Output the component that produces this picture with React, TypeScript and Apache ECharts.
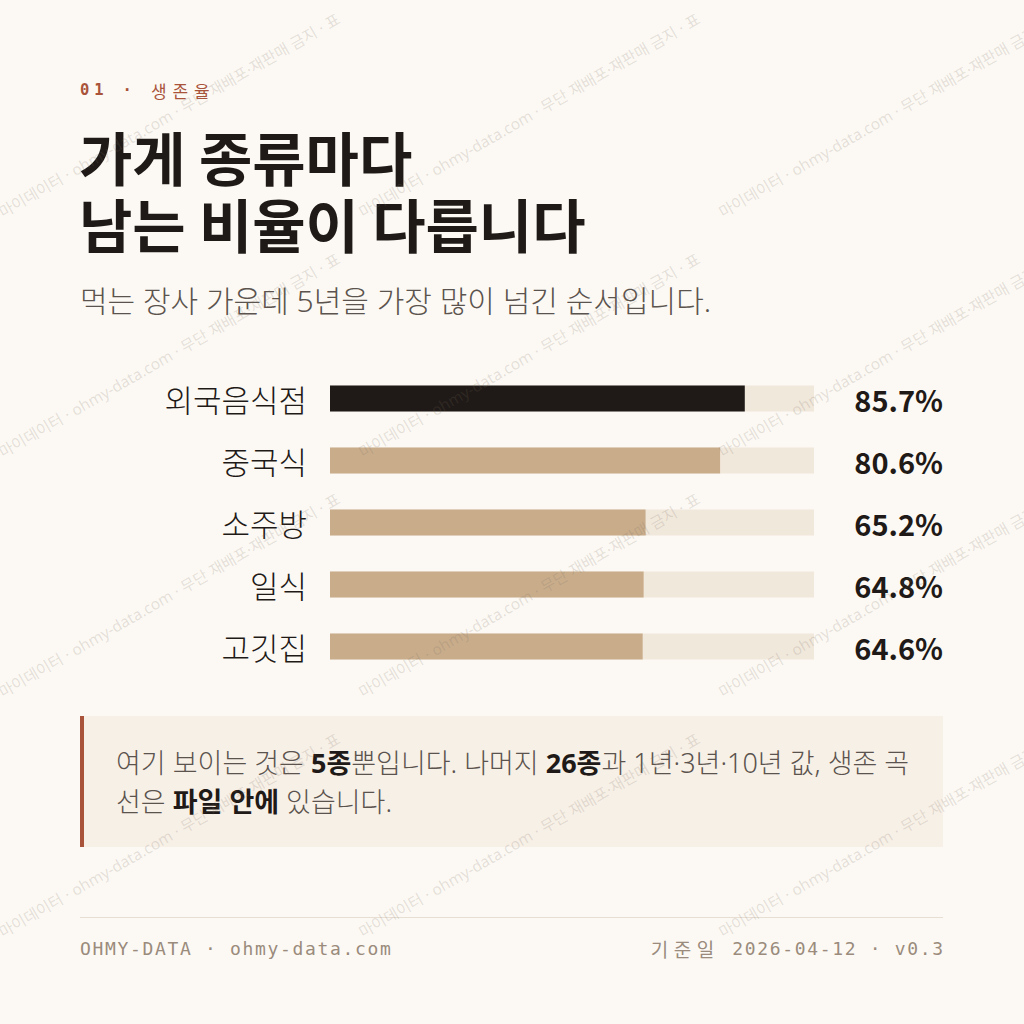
import React, { useEffect, useRef } from "react";
import * as echarts from "echarts";

// ---------- data ----------
const categories = ["외국음식점", "중국식", "소주방", "일식", "고깃집"];
const survival5y = [85.7, 80.6, 65.2, 64.8, 64.6];
const valueLabels = survival5y.map((v) => v.toFixed(1) + "%");
const axisMin = 0;
const axisMax = 100;

const eyebrow = "01 · 생존율";
const titleLines = ["가게 종류마다", "남는 비율이 다릅니다"];
const subtitle = "먹는 장사 가운데 5년을 가장 많이 넘긴 순서입니다.";
const noteLines: [string, string][][] = [
  [
    ["r", "여기 보이는 것은 "],
    ["b", "5종"],
    ["r", "뿐입니다. 나머지 "],
    ["b", "26종"],
    ["r", "과 1년·3년·10년 값, 생존 곡"],
  ],
  [
    ["r", "선은 "],
    ["b", "파일 안에"],
    ["r", " 있습니다."],
  ],
];
const footerLeft = "OHMY-DATA · ohmy-data.com";
const footerRight = "기준일 2026-04-12 · v0.3";
const watermark = "마이데이터 · ohmy-data.com · 무단 재배포·재판매 금지 · 표";

// ---------- style ----------
const BG = "#fcf9f4";
const INK = "#1f1a17";
const SUB = "#5b534d";
const RUST = "#a9533a";
const TAN = "#c9ad8b";
const TRACK = "#f1e8dc";
const MUTED = "#9a8b7c";
const KR = '"Noto Sans CJK KR", "Noto Sans", sans-serif';
const LATKR = '"Noto Sans", "Noto Sans CJK KR", sans-serif';
const MONO = '"DejaVu Sans Mono", "Liberation Mono", monospace';

const isCjk = (ch: string) => /[\u1100-\u11ff\u3130-\u318f\uac00-\ud7a3]/.test(ch);

function spacedText(
  str: string,
  x: number,
  y: number,
  size: number,
  cjkSize: number,
  pitchAscii: number,
  pitchCjk: number,
  color: string,
  weightAscii: string,
  weightCjk: string,
  alignRight = false
) {
  const chars = Array.from(str);
  let total = 0;
  chars.forEach((c, i) => {
    if (i < chars.length - 1) total += isCjk(c) ? pitchCjk : pitchAscii;
    else total += isCjk(c) ? cjkSize : size * 0.6;
  });
  let cx = alignRight ? x - total : x;
  const els: any[] = [];
  chars.forEach((c) => {
    const cjk = isCjk(c);
    if (c !== " ") {
      els.push({
        type: "text",
        x: cx,
        y,
        silent: true,
        z: 5,
        style: {
          text: c,
          fill: color,
          fontSize: cjk ? cjkSize : size,
          fontFamily: cjk ? KR : MONO,
          fontWeight: cjk ? weightCjk : weightAscii,
          align: "left",
          verticalAlign: "middle",
          textAlign: "left",
          textVerticalAlign: "middle",
        },
      });
    }
    cx += cjk ? pitchCjk : pitchAscii;
  });
  return els;
}

function buildWatermarks() {
  const els: any[] = [];
  const cols = [0, 360, 720];
  const rows = [213, 453, 693, 933];
  rows.forEach((ry) =>
    cols.forEach((cx) => {
      els.push({
        type: "text",
        x: cx,
        y: ry,
        rotation: Math.PI / 6,
        silent: true,
        z: 50,
        style: {
          text: watermark,
          fill: "rgba(120,105,92,0.19)",
          fontSize: 15.5,
          fontFamily: LATKR,
          align: "left",
          verticalAlign: "middle",
          textAlign: "left",
          textVerticalAlign: "middle",
        },
      });
    })
  );
  return els;
}

function noteText() {
  return noteLines
    .map((line) => line.map(([k, t]) => `{${k}|${t}}`).join(""))
    .join("\n");
}

export default function App() {
  const ref = useRef<HTMLDivElement>(null);
  useEffect(() => {
    document.body.style.margin = "0";
    if (!ref.current) return;
    const chart = echarts.init(ref.current, null, { renderer: "svg" });

    const graphics: any[] = [
      // eyebrow
      ...spacedText(eyebrow, 80, 90, 15.5, 17, 14.2, 21.5, RUST, "bold", "normal"),
      // title
      ...titleLines.map((t, i) => ({
        type: "text",
        x: 79,
        y: 156 + i * 67,
        silent: true,
        z: 5,
        style: {
          text: t,
          fill: INK,
          fontSize: 58,
          fontWeight: "bold",
          fontFamily: KR,
          align: "left",
          verticalAlign: "middle",
          textAlign: "left",
          textVerticalAlign: "middle",
        },
      })),
      // subtitle
      {
        type: "text",
        x: 80,
        y: 300,
        silent: true,
        z: 5,
        style: {
          text: subtitle,
          fill: SUB,
          fontSize: 30,
          fontWeight: 300,
          fontFamily: LATKR,
          align: "left",
          verticalAlign: "middle",
          textAlign: "left",
          textVerticalAlign: "middle",
        },
      },
      // callout box
      {
        type: "rect",
        silent: true,
        z: 1,
        shape: { x: 80, y: 716, width: 863, height: 131 },
        style: { fill: "#f7f0e7" },
      },
      {
        type: "rect",
        silent: true,
        z: 2,
        shape: { x: 80, y: 716, width: 4, height: 131 },
        style: { fill: RUST },
      },
      {
        type: "text",
        x: 116,
        y: 782,
        silent: true,
        z: 5,
        style: {
          text: noteText(),
          align: "left",
          verticalAlign: "middle",
          textAlign: "left",
          textVerticalAlign: "middle",
          rich: {
            r: {
              fontSize: 27,
              fontFamily: LATKR,
              fontWeight: 300,
              fill: SUB,
              color: SUB,
              lineHeight: 39,
            },
            b: {
              fontSize: 27,
              fontFamily: LATKR,
              fontWeight: "bold",
              fill: INK,
              color: INK,
              lineHeight: 39,
            },
          },
        },
      },
      // footer rule
      {
        type: "line",
        silent: true,
        z: 2,
        shape: { x1: 80, y1: 917.5, x2: 943, y2: 917.5 },
        style: { stroke: "#e7dfd4", lineWidth: 1 },
      },
      ...spacedText(footerLeft, 80, 948, 18, 19, 12.5, 23, MUTED, "normal", "normal"),
      ...spacedText(footerRight, 943, 948, 18, 19, 12.5, 23, MUTED, "normal", "normal", true),
      ...buildWatermarks(),
    ];

    chart.setOption({
      animation: false,
      backgroundColor: BG,
      grid: {
        left: 330,
        width: 484,
        top: 367.5,
        height: 310,
        outerBoundsMode: "none",
        containLabel: false,
      },
      xAxis: {
        type: "value",
        min: axisMin,
        max: axisMax,
        show: false,
      },
      yAxis: [
        {
          type: "category",
          data: categories,
          inverse: true,
          axisLine: { show: false },
          axisTick: { show: false },
          splitLine: { show: false },
          axisLabel: {
            margin: 23,
            fontSize: 31,
            fontWeight: 300,
            color: INK,
            fontFamily: KR,
          },
        },
        {
          type: "category",
          data: valueLabels,
          inverse: true,
          position: "right",
          axisLine: { show: false },
          axisTick: { show: false },
          splitLine: { show: false },
          axisLabel: {
            margin: 129,
            align: "right",
            fontSize: 29,
            fontWeight: "bold",
            color: INK,
            fontFamily: KR,
          },
        },
      ],
      series: [
        {
          type: "bar",
          data: survival5y,
          barWidth: 26,
          showBackground: true,
          backgroundStyle: { color: TRACK },
          itemStyle: {
            color: (p: any) => (p.dataIndex === 0 ? INK : TAN),
          },
          silent: true,
        },
      ],
      graphic: { elements: graphics },
    });

    return () => chart.dispose();
  }, []);

  return <div ref={ref} style={{ width: 1024, height: 1024 }} />;
}
